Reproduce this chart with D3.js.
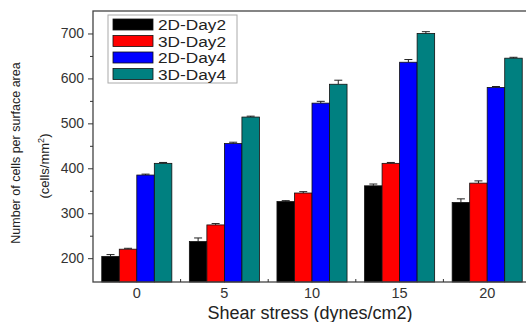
<!DOCTYPE html>
<html>
<head>
<meta charset="utf-8">
<script src="https://cdn.jsdelivr.net/npm/d3@7"></script>
<style>
  body { margin: 0; background: #fff; }
  svg { display: block; font-family: Arial, "Liberation Sans", sans-serif; }
</style>
</head>
<body>
<div id="chart"></div>
<script>
// data
const stress = ["0", "5", "10", "15", "20"];
const seriesNames = ["2D-Day2", "3D-Day2", "2D-Day4", "3D-Day4"];
const day2_2d = [204, 237, 326, 361, 324];
const day2_3d = [220, 274, 345, 411, 367];
const day4_2d = [385, 455, 545, 636, 580];
const day4_3d = [411, 514, 587, 700, 645];
const err2d2 = [4, 8, 2, 4, 8];
const err3d2 = [2, 3, 3, 2, 5];
const err2d4 = [2, 3, 4, 6, 2];
const err3d4 = [2, 2, 9, 4, 2];
const yTicks = [200, 300, 400, 500, 600, 700];
const colors = ["#000000", "#ff0000", "#0000ff", "#008080"];

const width = 526, height = 322;
const margin = { top: 11, right: -5, bottom: 40, left: 93 };
const innerW = width - margin.left - margin.right;
const innerH = height - margin.top - margin.bottom;

const values = [day2_2d, day2_3d, day4_2d, day4_3d];
const errors = [err2d2, err3d2, err2d4, err3d4];

const svg = d3.select("#chart").append("svg")
  .attr("width", width)
  .attr("height", height);

const g = svg.append("g")
  .attr("transform", `translate(${margin.left},${margin.top})`);

// scales
const x = d3.scaleBand().domain(stress).range([0, innerW]).paddingInner(0.2).paddingOuter(0.1);
const xs = d3.scaleBand().domain(seriesNames).range([0, x.bandwidth()]);
const y = d3.scaleLinear().domain([147, 750]).range([innerH, 0]);

// bars
seriesNames.forEach((name, si) => {
  const rows = stress.map((s, i) => ({ s, v: values[si][i], e: errors[si][i] }));
  const sg = g.append("g");
  // error bars (upward only)
  sg.selectAll("line.err").data(rows).enter().append("line")
    .attr("x1", d => x(d.s) + xs(name) + xs.bandwidth() / 2)
    .attr("x2", d => x(d.s) + xs(name) + xs.bandwidth() / 2)
    .attr("y1", d => y(d.v))
    .attr("y2", d => y(d.v + d.e))
    .attr("stroke", "#222").attr("stroke-width", 1);
  sg.selectAll("line.cap").data(rows).enter().append("line")
    .attr("x1", d => x(d.s) + xs(name) + xs.bandwidth() / 2 - 4)
    .attr("x2", d => x(d.s) + xs(name) + xs.bandwidth() / 2 + 4)
    .attr("y1", d => y(d.v + d.e))
    .attr("y2", d => y(d.v + d.e))
    .attr("stroke", "#222").attr("stroke-width", 1);
  sg.selectAll("rect").data(rows).enter().append("rect")
    .attr("x", d => x(d.s) + xs(name))
    .attr("y", d => y(d.v))
    .attr("width", xs.bandwidth())
    .attr("height", d => innerH - y(d.v))
    .attr("fill", colors[si])
    .attr("stroke", "#111")
    .attr("stroke-width", 0.8);
});

// frame
g.append("rect")
  .attr("x", 0).attr("y", 0)
  .attr("width", innerW).attr("height", innerH)
  .attr("fill", "none").attr("stroke", "#444").attr("stroke-width", 1.3);

// y axis
const yAxis = g.append("g")
  .call(d3.axisLeft(y).tickValues(yTicks).tickSize(5).tickPadding(4));
yAxis.select(".domain").remove();
yAxis.selectAll("text").attr("font-size", 14).attr("fill", "#333");
yAxis.selectAll("line").attr("stroke", "#333");
g.append("g")
  .call(d3.axisLeft(y).tickValues(yTicks.map(t => t + 50).filter(t => t < 750)).tickSize(3).tickFormat(""))
  .call(a => a.select(".domain").remove())
  .selectAll("line").attr("stroke", "#333");

// x axis
const xAxis = g.append("g")
  .attr("transform", `translate(0,${innerH})`)
  .call(d3.axisBottom(x).tickSize(0).tickPadding(6));
xAxis.select(".domain").remove();
xAxis.selectAll("text").attr("font-size", 14.5).attr("fill", "#333");
// minor ticks between groups, pointing inward
const mids = stress.slice(1).map(s => x(s) - x.step() * x.paddingInner() / 2);
g.selectAll("line.xminor").data(mids).enter().append("line")
  .attr("x1", d => d).attr("x2", d => d)
  .attr("y1", innerH).attr("y2", innerH - 3)
  .attr("stroke", "#333");

// axis titles
svg.append("text")
  .attr("x", 310).attr("y", 319)
  .attr("text-anchor", "middle")
  .attr("font-size", 18).attr("fill", "#222")
  .text("Shear stress (dynes/cm2)");

svg.append("text")
  .attr("transform", "translate(20,153) rotate(-90)")
  .attr("text-anchor", "middle")
  .attr("font-size", 12.5).attr("fill", "#222")
  .text("Number of cells per surface area");
const t2 = svg.append("text")
  .attr("transform", "translate(49,166) rotate(-90)")
  .attr("text-anchor", "middle")
  .attr("font-size", 13).attr("fill", "#222");
t2.append("tspan").text("(cells/mm");
t2.append("tspan").attr("font-size", 9).attr("dy", -5).text("2");
t2.append("tspan").attr("dy", 5).text(")");

// legend
const lg = svg.append("g").attr("transform", "translate(108,15)");
lg.append("rect")
  .attr("width", 129).attr("height", 68)
  .attr("fill", "#fff").attr("stroke", "#aaa").attr("stroke-width", 1);
seriesNames.forEach((name, i) => {
  const row = lg.append("g").attr("transform", `translate(5,${4 + i * 16.5})`);
  row.append("rect")
    .attr("width", 40).attr("height", 11)
    .attr("fill", colors[i]).attr("stroke", "#111").attr("stroke-width", 0.8);
  row.append("text")
    .attr("x", 45).attr("y", 11)
    .attr("font-size", 14)
    .attr("textLength", 68).attr("lengthAdjust", "spacingAndGlyphs")
    .attr("fill", "#222")
    .text(name);
});
</script>
</body>
</html>
